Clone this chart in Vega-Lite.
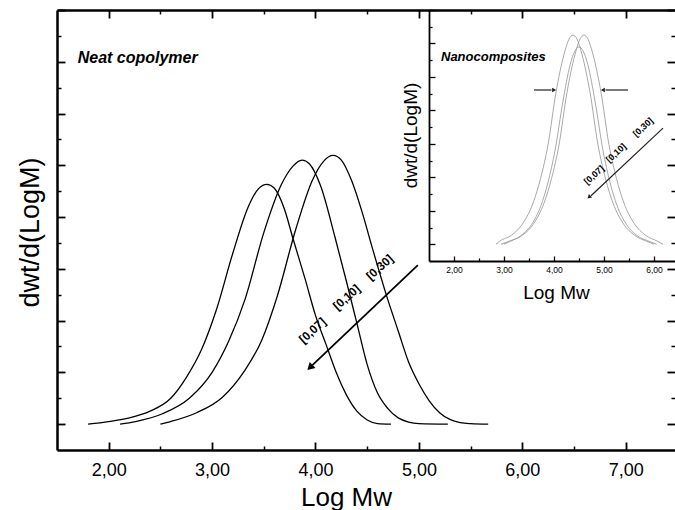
{
  "$schema": "https://vega.github.io/schema/vega-lite/v6.json",
  "width": 618,
  "height": 440,
  "autosize": "none",
  "padding": {"left": 57, "top": 10, "right": 0, "bottom": 60},
  "background": "white",
  "config": {
    "view": {"stroke": null},
    "axis": {"grid": false, "domainColor": "black", "tickColor": "black", "labelColor": "black", "titleColor": "black", "labelFont": "Liberation Sans", "titleFont": "Liberation Sans", "titleFontWeight": "normal"},
    "text": {"font": "Liberation Sans"}
  },
  "datasets": {
    "main": [
      {"s":"a","x":1.80,"y":0},{"s":"a","x":2.0,"y":0.05},{"s":"a","x":2.2,"y":0.12},{"s":"a","x":2.4,"y":0.25},{"s":"a","x":2.6,"y":0.5},{"s":"a","x":2.75,"y":0.9},{"s":"a","x":2.9,"y":1.45},{"s":"a","x":3.04,"y":2.2},{"s":"a","x":3.2,"y":3.3},{"s":"a","x":3.35,"y":4.2},{"s":"a","x":3.45,"y":4.55},{"s":"a","x":3.53,"y":4.63},{"s":"a","x":3.6,"y":4.56},{"s":"a","x":3.7,"y":4.15},{"s":"a","x":3.78,"y":3.6},{"s":"a","x":3.9,"y":2.8},{"s":"a","x":4.0,"y":2.1},{"s":"a","x":4.1,"y":1.55},{"s":"a","x":4.2,"y":1.0},{"s":"a","x":4.3,"y":0.56},{"s":"a","x":4.4,"y":0.25},{"s":"a","x":4.5,"y":0.08},{"s":"a","x":4.6,"y":0.01},{"s":"a","x":4.73,"y":0},
      {"s":"b","x":2.11,"y":0},{"s":"b","x":2.26,"y":0.05},{"s":"b","x":2.52,"y":0.2},{"s":"b","x":2.78,"y":0.5},{"s":"b","x":3.0,"y":1.0},{"s":"b","x":3.16,"y":1.6},{"s":"b","x":3.32,"y":2.42},{"s":"b","x":3.5,"y":3.7},{"s":"b","x":3.67,"y":4.63},{"s":"b","x":3.78,"y":4.98},{"s":"b","x":3.87,"y":5.1},{"s":"b","x":3.94,"y":5.03},{"s":"b","x":4.05,"y":4.6},{"s":"b","x":4.19,"y":3.6},{"s":"b","x":4.3,"y":2.75},{"s":"b","x":4.4,"y":1.95},{"s":"b","x":4.5,"y":1.15},{"s":"b","x":4.6,"y":0.6},{"s":"b","x":4.7,"y":0.3},{"s":"b","x":4.8,"y":0.12},{"s":"b","x":4.9,"y":0.04},{"s":"b","x":5.0,"y":0.01},{"s":"b","x":5.28,"y":0},
      {"s":"c","x":2.5,"y":0},{"s":"c","x":2.6,"y":0.05},{"s":"c","x":2.85,"y":0.22},{"s":"c","x":3.1,"y":0.52},{"s":"c","x":3.31,"y":1.02},{"s":"c","x":3.48,"y":1.62},{"s":"c","x":3.63,"y":2.47},{"s":"c","x":3.81,"y":3.77},{"s":"c","x":3.97,"y":4.71},{"s":"c","x":4.08,"y":5.08},{"s":"c","x":4.17,"y":5.19},{"s":"c","x":4.25,"y":5.1},{"s":"c","x":4.35,"y":4.7},{"s":"c","x":4.45,"y":4.1},{"s":"c","x":4.55,"y":3.4},{"s":"c","x":4.7,"y":2.4},{"s":"c","x":4.8,"y":1.8},{"s":"c","x":4.9,"y":1.2},{"s":"c","x":5.0,"y":0.78},{"s":"c","x":5.1,"y":0.45},{"s":"c","x":5.2,"y":0.22},{"s":"c","x":5.3,"y":0.09},{"s":"c","x":5.4,"y":0.03},{"s":"c","x":5.5,"y":0.01},{"s":"c","x":5.67,"y":0}
    ],
    "inset": [
      {"s":"A","x":2.84,"y":0},{"s":"A","x":2.91,"y":0.09},{"s":"A","x":3.15,"y":0.27},{"s":"A","x":3.38,"y":0.63},{"s":"A","x":3.58,"y":1.23},{"s":"A","x":3.73,"y":1.96},{"s":"A","x":3.88,"y":2.97},{"s":"A","x":4.04,"y":4.54},{"s":"A","x":4.2,"y":5.67},{"s":"A","x":4.3,"y":6.13},{"s":"A","x":4.38,"y":6.25},{"s":"A","x":4.46,"y":6.13},{"s":"A","x":4.56,"y":5.67},{"s":"A","x":4.72,"y":4.54},{"s":"A","x":4.88,"y":2.97},{"s":"A","x":5.03,"y":1.96},{"s":"A","x":5.18,"y":1.23},{"s":"A","x":5.38,"y":0.63},{"s":"A","x":5.61,"y":0.27},{"s":"A","x":5.85,"y":0.09},{"s":"A","x":6.0,"y":0},
      {"s":"B","x":2.94,"y":0},{"s":"B","x":3.1,"y":0.09},{"s":"B","x":3.33,"y":0.25},{"s":"B","x":3.55,"y":0.59},{"s":"B","x":3.74,"y":1.16},{"s":"B","x":3.88,"y":1.85},{"s":"B","x":4.02,"y":2.8},{"s":"B","x":4.18,"y":4.28},{"s":"B","x":4.32,"y":5.35},{"s":"B","x":4.42,"y":5.78},{"s":"B","x":4.5,"y":5.9},{"s":"B","x":4.58,"y":5.78},{"s":"B","x":4.68,"y":5.35},{"s":"B","x":4.82,"y":4.28},{"s":"B","x":4.98,"y":2.8},{"s":"B","x":5.12,"y":1.85},{"s":"B","x":5.26,"y":1.16},{"s":"B","x":5.45,"y":0.59},{"s":"B","x":5.67,"y":0.25},{"s":"B","x":5.9,"y":0.09},{"s":"B","x":6.05,"y":0},
      {"s":"C","x":3.0,"y":0},{"s":"C","x":3.13,"y":0.09},{"s":"C","x":3.37,"y":0.27},{"s":"C","x":3.6,"y":0.63},{"s":"C","x":3.8,"y":1.23},{"s":"C","x":3.95,"y":1.96},{"s":"C","x":4.1,"y":2.97},{"s":"C","x":4.26,"y":4.54},{"s":"C","x":4.42,"y":5.67},{"s":"C","x":4.52,"y":6.13},{"s":"C","x":4.6,"y":6.25},{"s":"C","x":4.68,"y":6.13},{"s":"C","x":4.78,"y":5.67},{"s":"C","x":4.94,"y":4.54},{"s":"C","x":5.1,"y":2.97},{"s":"C","x":5.25,"y":1.96},{"s":"C","x":5.4,"y":1.23},{"s":"C","x":5.6,"y":0.63},{"s":"C","x":5.83,"y":0.27},{"s":"C","x":6.07,"y":0.09},{"s":"C","x":6.18,"y":0}
    ]
  },
  "layer": [
    {
      "resolve": {"axis": {"x": "independent", "y": "independent"}},
      "layer": [
        {
          "data": {"name": "main"},
          "mark": {"type": "line", "color": "black", "strokeWidth": 1.3, "interpolate": "monotone"},
          "encoding": {
            "x": {"field": "x", "type": "quantitative", "scale": {"domain": [1.5, 7.4768], "nice": false, "zero": false},
              "axis": {"orient": "bottom", "values": [2, 3, 4, 5, 6, 7], "tickSize": -8, "tickWidth": 1.8, "domainWidth": 2.5, "labelExpr": "replace(format(datum.value, '.2f'), '.', ',')", "labelFontSize": 18, "labelPadding": 19, "labelBaseline": "top", "title": "Log Mw", "titleFontSize": 26, "titleX": 289, "titleY": 55, "titleAlign": "center", "titleBaseline": "alphabetic"}},
            "y": {"field": "y", "type": "quantitative", "scale": {"domain": [-0.5, 8], "nice": false, "zero": false},
              "axis": {"orient": "left", "values": [0, 1, 2, 3, 4, 5, 6, 7, 8], "tickSize": -8, "tickWidth": 1.8, "domainWidth": 2.5, "labels": false, "title": "dwt/d(LogM)", "titleFontSize": 27, "titleX": -27, "titleY": 222, "titleAngle": -90, "titleAlign": "center", "titleBaseline": "middle"}},
            "detail": {"field": "s"}
          }
        },
        {
          "data": {"values": [{"x": 4.99, "y": 3.07, "x2": 3.97, "y2": 1.14}]},
          "mark": {"type": "rule", "color": "black", "strokeWidth": 1.8},
          "encoding": {
            "x": {"field": "x", "type": "quantitative", "scale": {"domain": [1.5, 7.4768], "nice": false, "zero": false},
              "axis": {"orient": "bottom", "values": [2.5, 3.5, 4.5, 5.5, 6.5], "tickSize": -4, "tickWidth": 1.5, "domain": false, "labels": false, "title": null}},
            "y": {"field": "y", "type": "quantitative", "scale": {"domain": [-0.5, 8], "nice": false, "zero": false},
              "axis": {"orient": "left", "values": [0.5, 1.5, 2.5, 3.5, 4.5, 5.5, 6.5, 7.5], "tickSize": -4, "tickWidth": 1.5, "domain": false, "labels": false, "title": null}},
            "x2": {"field": "x2"},
            "y2": {"field": "y2"}
          }
        },
        {
          "data": {"values": [{"x": 3.955, "y": 1.11}]},
          "mark": {"type": "point", "shape": "triangle", "filled": true, "color": "black", "opacity": 1, "size": 70, "angle": 226},
          "encoding": {
            "x": {"field": "x", "type": "quantitative", "scale": {"domain": [1.5, 7.4768], "nice": false, "zero": false},
              "axis": {"orient": "top", "values": [2, 3, 4, 5, 6, 7], "tickSize": -8, "tickWidth": 1.8, "domainWidth": 2.5, "labels": false, "title": null}},
            "y": {"field": "y", "type": "quantitative", "scale": {"domain": [-0.5, 8], "nice": false, "zero": false},
              "axis": {"orient": "right", "values": [0, 1, 2, 3, 4, 5, 6, 7, 8], "tickSize": -8, "tickWidth": 1.8, "domain": false, "labels": false, "title": null}}
          }
        },
        {
          "data": {"values": [{"x": 3.97, "y": 1.81, "t": "[0,07]"}, {"x": 4.30, "y": 2.45, "t": "[0,10]"}, {"x": 4.62, "y": 3.03, "t": "[0,30]"}]},
          "mark": {"type": "text", "angle": -42, "fontWeight": "bold", "fontSize": 12, "align": "center", "baseline": "middle", "color": "black"},
          "encoding": {
            "x": {"field": "x", "type": "quantitative", "scale": {"domain": [1.5, 7.4768], "nice": false, "zero": false},
              "axis": {"orient": "top", "values": [2.5, 3.5, 4.5, 5.5, 6.5], "tickSize": -4, "tickWidth": 1.5, "domain": false, "labels": false, "title": null}},
            "y": {"field": "y", "type": "quantitative", "scale": {"domain": [-0.5, 8], "nice": false, "zero": false},
              "axis": {"orient": "right", "values": [0.5, 1.5, 2.5, 3.5, 4.5, 5.5, 6.5, 7.5], "tickSize": -4, "tickWidth": 1.5, "domain": false, "labels": false, "title": null}},
            "text": {"field": "t"}
          }
        },
        {
          "data": {"values": [{"x": 1.70, "y": 7.08, "t": "Neat copolymer"}]},
          "mark": {"type": "text", "fontWeight": "bold", "fontStyle": "italic", "fontSize": 16, "align": "left", "baseline": "middle", "color": "black"},
          "encoding": {
            "x": {"field": "x", "type": "quantitative", "scale": {"domain": [1.5, 7.4768], "nice": false, "zero": false}, "axis": null},
            "y": {"field": "y", "type": "quantitative", "scale": {"domain": [-0.5, 8], "nice": false, "zero": false}, "axis": null},
            "text": {"field": "t"}
          }
        }
      ]
    },
    {
      "resolve": {"axis": {"x": "independent", "y": "independent"}},
      "layer": [
        {
          "data": {"name": "inset"},
          "mark": {"type": "line", "color": "#999999", "strokeWidth": 0.85, "interpolate": "monotone"},
          "encoding": {
            "x": {"field": "x", "type": "quantitative", "scale": {"domain": [1.5, 6.42], "range": [372, 618], "nice": false, "zero": false},
              "axis": {"orient": "bottom", "offset": -189, "values": [2, 3, 4, 5, 6], "tickSize": -5, "tickWidth": 1.3, "domainWidth": 1.8, "labelExpr": "replace(format(datum.value, '.2f'), '.', ',')", "labelFontSize": 8.5, "labelPadding": 9.5, "labelBaseline": "top", "title": "Log Mw", "titleFontSize": 19, "titleX": 499, "titleY": 37, "titleAlign": "center", "titleBaseline": "alphabetic"}},
            "y": {"field": "y", "type": "quantitative", "scale": {"domain": [-0.5, 7], "range": [251, 0], "nice": false, "zero": false},
              "axis": {"orient": "left", "offset": -372, "values": [0, 1, 2, 3, 4, 5, 6, 7], "tickSize": -6, "tickWidth": 1.3, "domainWidth": 1.8, "labels": false, "title": "dwt/d(LogM)", "titleFontSize": 19, "titleX": -19, "titleY": 125, "titleAngle": -90, "titleAlign": "center", "titleBaseline": "middle"}},
            "detail": {"field": "s"}
          }
        },
        {
          "data": {"values": [{"x": 3.6, "y": 4.61, "x2": 3.95, "y2": 4.61}, {"x": 5.48, "y": 4.61, "x2": 5.03, "y2": 4.61}, {"x": 6.18, "y": 3.47, "x2": 4.74, "y2": 1.45}]},
          "mark": {"type": "rule", "color": "#222222", "strokeWidth": 1.2},
          "encoding": {
            "x": {"field": "x", "type": "quantitative", "scale": {"domain": [1.5, 6.42], "range": [372, 618], "nice": false, "zero": false},
              "axis": {"orient": "bottom", "offset": -189, "values": [2.5, 3.5, 4.5, 5.5], "tickSize": -3, "tickWidth": 1.2, "domain": false, "labels": false, "title": null}},
            "y": {"field": "y", "type": "quantitative", "scale": {"domain": [-0.5, 7], "range": [251, 0], "nice": false, "zero": false},
              "axis": {"orient": "left", "offset": -372, "values": [0.5, 1.5, 2.5, 3.5, 4.5, 5.5, 6.5], "tickSize": -3, "tickWidth": 1.2, "domain": false, "labels": false, "title": null}},
            "x2": {"field": "x2"},
            "y2": {"field": "y2"}
          }
        },
        {
          "data": {"values": [{"x": 3.99, "y": 4.61}]},
          "mark": {"type": "point", "shape": "triangle", "filled": true, "color": "#222222", "opacity": 1, "size": 22, "angle": 90},
          "encoding": {
            "x": {"field": "x", "type": "quantitative", "scale": {"domain": [1.5, 6.42], "range": [372, 618], "nice": false, "zero": false}, "axis": null},
            "y": {"field": "y", "type": "quantitative", "scale": {"domain": [-0.5, 7], "range": [251, 0], "nice": false, "zero": false}, "axis": null}
          }
        },
        {
          "data": {"values": [{"x": 4.99, "y": 4.61}]},
          "mark": {"type": "point", "shape": "triangle", "filled": true, "color": "#222222", "opacity": 1, "size": 22, "angle": 270},
          "encoding": {
            "x": {"field": "x", "type": "quantitative", "scale": {"domain": [1.5, 6.42], "range": [372, 618], "nice": false, "zero": false}, "axis": null},
            "y": {"field": "y", "type": "quantitative", "scale": {"domain": [-0.5, 7], "range": [251, 0], "nice": false, "zero": false}, "axis": null}
          }
        },
        {
          "data": {"values": [{"x": 4.71, "y": 1.42}]},
          "mark": {"type": "point", "shape": "triangle", "filled": true, "color": "#222222", "opacity": 1, "size": 22, "angle": 227},
          "encoding": {
            "x": {"field": "x", "type": "quantitative", "scale": {"domain": [1.5, 6.42], "range": [372, 618], "nice": false, "zero": false}, "axis": null},
            "y": {"field": "y", "type": "quantitative", "scale": {"domain": [-0.5, 7], "range": [251, 0], "nice": false, "zero": false}, "axis": null}
          }
        },
        {
          "data": {"values": [{"x": 4.80, "y": 2.07, "t": "[0,07]"}, {"x": 5.24, "y": 2.73, "t": "[0,10]"}, {"x": 5.78, "y": 3.50, "t": "[0,30]"}]},
          "mark": {"type": "text", "angle": -42, "fontWeight": "bold", "fontSize": 9, "align": "center", "baseline": "middle", "color": "black"},
          "encoding": {
            "x": {"field": "x", "type": "quantitative", "scale": {"domain": [1.5, 6.42], "range": [372, 618], "nice": false, "zero": false}, "axis": null},
            "y": {"field": "y", "type": "quantitative", "scale": {"domain": [-0.5, 7], "range": [251, 0], "nice": false, "zero": false}, "axis": null},
            "text": {"field": "t"}
          }
        },
        {
          "data": {"values": [{"x": 1.74, "y": 5.6, "t": "Nanocomposites"}]},
          "mark": {"type": "text", "fontWeight": "bold", "fontStyle": "italic", "fontSize": 13, "align": "left", "baseline": "middle", "color": "black"},
          "encoding": {
            "x": {"field": "x", "type": "quantitative", "scale": {"domain": [1.5, 6.42], "range": [372, 618], "nice": false, "zero": false}, "axis": null},
            "y": {"field": "y", "type": "quantitative", "scale": {"domain": [-0.5, 7], "range": [251, 0], "nice": false, "zero": false}, "axis": null},
            "text": {"field": "t"}
          }
        }
      ]
    }
  ],
  "resolve": {"scale": {"x": "independent", "y": "independent"}, "axis": {"x": "independent", "y": "independent"}}
}
